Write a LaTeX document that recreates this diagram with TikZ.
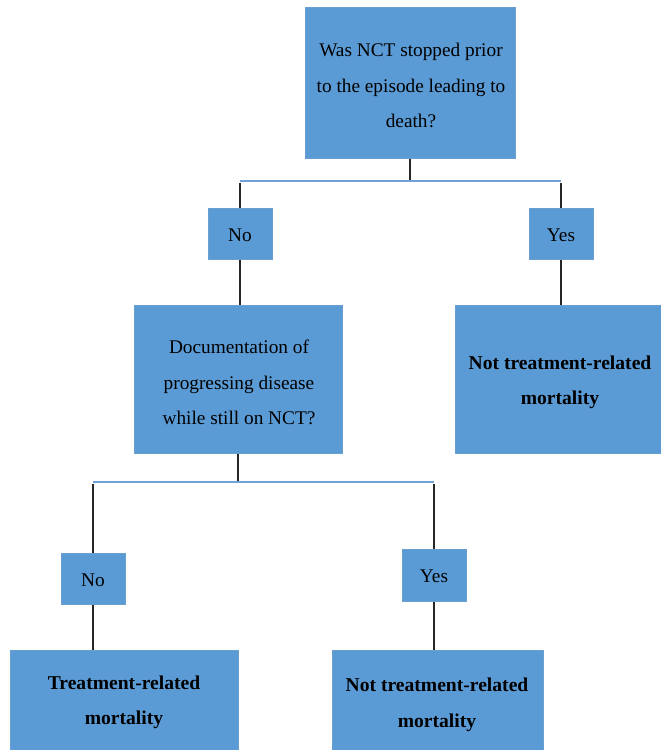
\documentclass[tikz,border=0pt]{standalone}
\usepackage{fontspec}
\setmainfont{Liberation Serif}
\definecolor{boxblue}{HTML}{5B9BD5}
\definecolor{boxedge}{HTML}{6A9FD2}
\definecolor{linkblue}{HTML}{6FA3D8}
\definecolor{linkdark}{HTML}{262626}
\begin{document}
\begin{tikzpicture}[x=1pt,y=-1pt,
  box/.style={draw=boxedge, line width=1pt, fill=boxblue, inner sep=0pt},
  txt/.style={inner sep=0pt, align=center, text=black,
    font={\fontsize{19.3}{35.5}\selectfont}},
  boldtxt/.style={txt, font={\fontsize{19.6}{35.5}\selectfont\bfseries}},
  tick/.style={draw=linkdark, line width=1.6pt},
  bar/.style={draw=linkblue, line width=2pt}]
\useasboundingbox (0,0) rectangle (661,750);
\begin{scope}
\clip (0,0) rectangle (661,750);
% boxes
\node[box, minimum width=210pt, minimum height=151pt] (q1) at (410,82.5) {};
\node[box, minimum width=64pt, minimum height=51pt] (no1) at (240,233.5) {};
\node[box, minimum width=64pt, minimum height=51pt] (yes1) at (561,233.5) {};
\node[box, minimum width=208pt, minimum height=148pt] (q2) at (238,379) {};
\node[box, minimum width=207pt, minimum height=148pt] (r1) at (558.5,379) {};
\node[box, minimum width=64pt, minimum height=51pt] (no2) at (93,578.5) {};
\node[box, minimum width=64pt, minimum height=52pt] (yes2) at (434,575) {};
\node[box, minimum width=228pt, minimum height=110pt] (r2) at (124,705) {};
\node[box, minimum width=211pt, minimum height=110pt] (r3) at (437.5,705) {};
% texts
\node[txt] (q1t) at (411,85.5) {Was NCT stopped prior\\to the episode leading to\\death?};
\node[txt] (no1t) at (240,235) {No};
\node[txt] (yes1t) at (561,235) {Yes};
\node[txt] (q2t) at (239,382.5) {Documentation of\\progressing disease\\while still on NCT?};
\node[boldtxt] (r1t) at (560,382.5) {Not treatment-related\\mortality};
\node[txt] (no2t) at (93,580) {No};
\node[txt] (yes2t) at (434,576.5) {Yes};
\node[boldtxt] (r2t) at (124,702.5) {Treatment-related\\mortality};
\node[boldtxt] (r3t) at (437,705) {Not treatment-related\\mortality};
% junction coordinates
\coordinate (j1) at (410,181);
\coordinate (j1l) at (240,181);
\coordinate (j1r) at (561,181);
\coordinate (j2) at (238,482);
\coordinate (j2l) at (93,482);
\coordinate (j2r) at (434,482);
% connectors
\draw[tick] (q1.south) -- (j1);
\draw[tick] ([yshift=-2pt]j1l) -- (no1.north);
\draw[tick] ([yshift=-2pt]j1r) -- (yes1.north);
\draw[tick] (no1.south) -- (no1.south |- q2.north);
\draw[tick] (yes1.south) -- (yes1.south |- r1.north);
\draw[bar] (j1l) -- (j1r);
\draw[tick] (q2.south) -- (j2);
\draw[tick] ([yshift=-2pt]j2l) -- (no2.north);
\draw[tick] ([yshift=-2pt]j2r) -- (yes2.north);
\draw[tick] (no2.south) -- (no2.south |- r2.north);
\draw[tick] (yes2.south) -- (yes2.south |- r3.north);
\draw[bar] (j2l) -- (j2r);
\end{scope}
\end{tikzpicture}
\end{document}
